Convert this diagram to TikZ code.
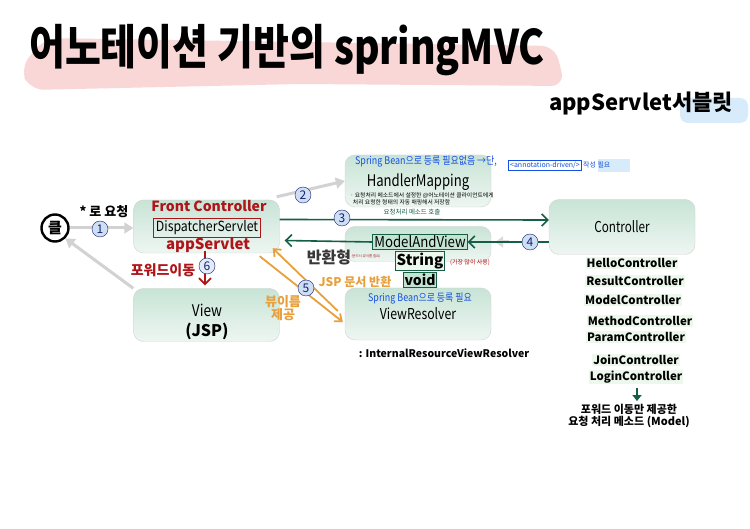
\documentclass[tikz,border=0pt]{standalone}
\usepackage{fontspec}
\setmainfont{Noto Sans CJK KR}
\usetikzlibrary{arrows.meta,calc}
\definecolor{boxtop}{RGB}{200,228,214}
\definecolor{boxbot}{RGB}{238,246,242}
\definecolor{dgreen}{RGB}{20,95,70}
\definecolor{dred}{RGB}{175,20,25}
\definecolor{navy}{RGB}{25,35,110}
\definecolor{cblue}{RGB}{205,222,245}
\definecolor{org}{RGB}{232,160,60}
\definecolor{hblue}{RGB}{20,80,225}
\definecolor{pinkhl}{RGB}{248,205,205}
\definecolor{bluehl}{RGB}{215,235,250}
\definecolor{lgreen}{RGB}{236,248,236}
\definecolor{mvfill}{RGB}{195,228,208}
\newcommand\fsz[1]{\fontsize{#1}{#1}\selectfont}
\newcommand\cnd[2]{\scalebox{#1}[1]{#2}}
\begin{document}
\begin{tikzpicture}[x=1pt,y=-1pt,
  mbox/.style={draw=gray!35, rounded corners=10pt, top color=boxtop, bottom color=boxbot, minimum width=146pt, minimum height=53pt, inner sep=0pt},
  num/.style={circle, draw=navy, fill=cblue, text=navy, inner sep=0pt, minimum size=16pt, font=\fsz{12}},
  garrow/.style={draw=gray!35, line width=3pt, -{Triangle[length=9pt,width=11pt]}},
  grarrow/.style={draw=dgreen, line width=1.6pt, -{Straight Barb[length=6pt,width=12pt,line width=1.6pt]}},
  oarrow/.style={draw=org, line width=1.8pt, -{Straight Barb[length=6pt,width=10pt,line width=1.8pt]}},
  gbox/.style={draw=dgreen, line width=1pt, inner sep=1.5pt},
  clist/.style={font=\fsz{11.5}\bfseries, fill=lgreen, inner sep=1pt},
  hand/.style={text=hblue, font=\fsz{10.5}},
  txt/.style={inner sep=0pt}
]
\useasboundingbox (0,0) rectangle (750,529);
\fill[white] (0,0) rectangle (750,529);
% highlights
\fill[pinkhl, opacity=.8, rounded corners=14pt] (20,68) -- (45,38) -- (300,42) -- (555,46) -- (565,86) -- (300,84) -- (30,90) -- cycle;
\fill[bluehl, rounded corners=8pt] (680,98) rectangle (748,123);
% title
\node[txt, font=\fsz{39}\bfseries] (title) at (287,50) {\scalebox{1}[1.22]{어노테이션 기반의 springMVC}};
\node[txt, font=\fsz{22}\bfseries] (sub) at (641,103) {appServlet서블릿};

% main boxes
\node[mbox] (fc) at (206.5,226.5) {};
\node[mbox] (view) at (206.5,315) {};
\node[mbox, minimum height=52pt] (hm) at (418,181) {};
\node[mbox, minimum height=55pt] (ctrl) at (622,227) {};
\node[mbox, minimum height=35pt] (mvbox) at (418,244) {};
\node[mbox, minimum height=52pt] (vr) at (418,314) {};

% client
\node[circle, draw=black, line width=2.4pt, minimum size=27pt, inner sep=0pt, font=\fsz{15}\bfseries] (cl) at (55,228) {클};
\node[txt, font=\fsz{13}\bfseries] (req) at (104,212) {* 로 요청};

% front controller text
\node[txt, text=dred, font=\fsz{14}\bfseries] (fct) at (209,206) {Front Controller};
\node[draw=dred, line width=1pt, inner sep=2pt, font=\fsz{14}] (ds) at (207,228) {\cnd{0.88}{DispatcherServlet}};
\node[txt, text=dred, font=\fsz{15}\bfseries] (aps) at (208,245) {appServlet};

% view text
\node[txt, font=\fsz{16}, align=center] (viewt) at (207,322) {\cnd{0.85}{View}\\[4pt]\bfseries(JSP)};

% handler mapping text
\node[txt, hand] (hmh) at (426,161) {\cnd{0.85}{Spring Bean으로 등록 필요없음 →단,}};
\node[draw=hblue, line width=.8pt, inner sep=1.5pt, text=hblue, font=\fsz{7}] (ad) at (545,165) {<annotation-driven/>};
\fill[bluehl] (598,159) rectangle (630,172);
\node[txt, text=hblue, font=\fsz{7}, anchor=west] (adt) at (ad.east) {\,작성 필요};
\node[txt, font=\fsz{16}] (hmt) at (418,182) {\cnd{0.82}{HandlerMapping}};
\node[txt, font=\fsz{5.8}, align=left] (hmn) at (422,199) {· 요청처리 메소드에서 설정한 @어노테이션 클라이언트에게\\\ \ 처리 요청한 형태의 자동 매핑해서 저장함};
\node[txt, text=dgreen, font=\fsz{6.5}] (call) at (412,212) {요청처리 메소드 호출};

% controller
\node[txt, font=\fsz{15}] (ctt) at (622,227) {\cnd{0.78}{Controller}};

% model and view
\node[gbox, fill=mvfill, font=\fsz{15}] (mv) at (420,242) {\cnd{0.88}{ModelAndView}};
\node[txt, text=black!78, font=\fsz{16}\bfseries] (ret) at (329,257) {반환형};
\node[txt, text=dred, font=\fsz{3.4}] (retn) at (366,256) {(반드시 뷰이름 필요)};
\node[gbox, fill=lgreen, font=\fsz{15}\bfseries] (str) at (420,261) {String};
\node[txt, text=dred, font=\fsz{6}] (strn) at (470,263) {(가장 많이 사용)};
\node[gbox, fill=mvfill, font=\fsz{14}\bfseries] (void) at (420,280) {void};

% view resolver
\node[txt, hand] (vrh) at (420,298) {\cnd{0.85}{Spring Bean으로 등록 필요}};
\node[txt, font=\fsz{15}] (vrt) at (418,314) {\cnd{0.82}{ViewResolver}};
\node[txt, font=\fsz{10.5}\bfseries] (ir) at (444,353) {: InternalResourceViewResolver};

% controller list
\node[clist] (c1) at (632,263) {HelloController};
\node[clist] (c2) at (635,281) {ResultController};
\node[clist] (c3) at (633,300) {ModelController};
\node[clist] (c4) at (640,321) {MethodController};
\node[clist] (c5) at (636,337) {ParamController};
\node[clist] (c6) at (636,360) {JoinController};
\node[clist] (c7) at (636,377) {LoginController};
\coordinate (dtop) at (637,388);
\node[txt, font=\fsz{11}\bfseries, align=center] (fw) at (629,416) {포워드 이동만 제공한\\[1pt]요청 처리 메소드 (Model)};
\draw[dgreen, line width=2pt, -{Triangle[length=6pt,width=9pt]}] (dtop) -- ($(fw.north)+(8,-3)$);

% connectors
\draw[garrow] (cl.east) -- (fc.west |- cl.east);
\draw[garrow] (view.160) -- (cl.-45);
\draw[garrow] ($(fc.north east)+(-3,-3)$) -- (hm.west);
\draw[grarrow] ($(fc.east)+(0,-7)$) -- ($(ctrl.west)+(0,-7)$);
\draw[gray!30, line width=3pt, -{Triangle[length=8pt,width=11pt]}] ($(mvbox.east)+(18,-2)$) -- ($(mvbox.east)+(4,-2)$);
\draw[grarrow] ($(ctrl.west)+(0,15)$) -- (mv.east);
\draw[grarrow] (mv.west) -- ($(fc.east)+(5,14)$);
\draw[draw=dred, line width=1.8pt, -{Straight Barb[length=6pt,width=12pt,line width=1.8pt]}] ($(fc.south)+(-1.5,-2)$) -- ($(view.north)+(-1.5,-3)$);
\draw[oarrow] ($(fc.south east)+(-20,3)$) -- ($(vr.west)+(-2,8)$);
\draw[oarrow] ($(vr.west)+(-7,-3)$) -- ($(fc.south east)+(-7,-5)$);

% numbers and labels on connectors
\node[num] (n1) at (100,229) {1};
\node[num] (n2) at (303,195) {2};
\node[num] (n3) at (342,218) {3};
\node[num] (n4) at (530,242) {4};
\node[num] (n5) at (306,288) {5};
\node[num, fill=cblue!60] (n6) at (207,266) {6};
\node[txt, text=dred, font=\fsz{14}\bfseries] (fwd) at (163,270) {포워드이동};
\node[txt, text=org, font=\fsz{12}\bfseries] (jsp) at (355,282) {JSP 문서 반환};
\node[txt, text=org, font=\fsz{13}\bfseries, align=center] (vn) at (283,308) {뷰이름\\제공};
\end{tikzpicture}
\end{document}
